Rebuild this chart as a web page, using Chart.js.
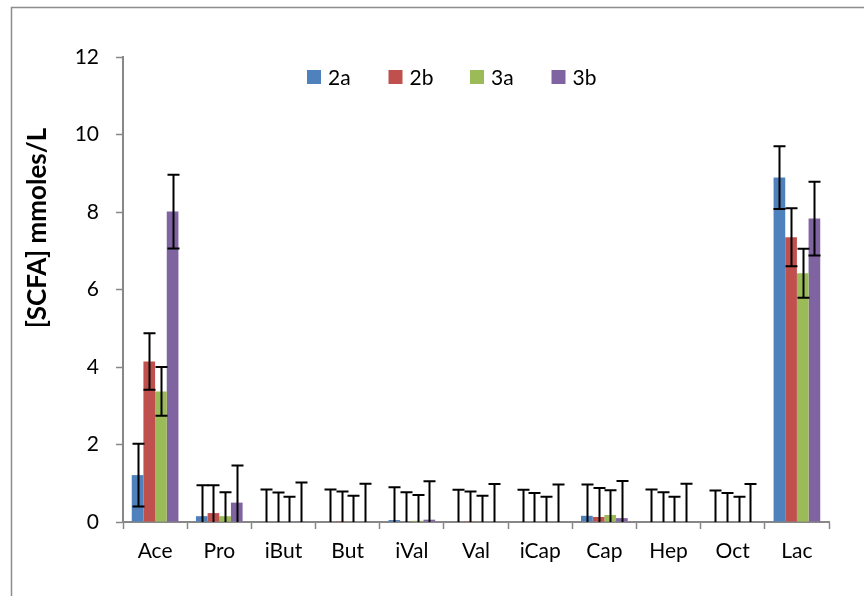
<!DOCTYPE html>
<html>
<head>
<meta charset="utf-8">
<script src="https://cdn.jsdelivr.net/npm/chart.js@4/dist/chart.umd.min.js"></script>
<style>
  html, body { margin: 0; padding: 0; background: #fff; }
  #wrap { width: 864px; height: 596px; }
</style>
</head>
<body>
<div id="wrap"><canvas id="scfa-chart" width="864" height="596"></canvas></div>
<script>
var categories = ['Ace', 'Pro', 'iBut', 'But', 'iVal', 'Val', 'iCap', 'Cap', 'Hep', 'Oct', 'Lac'];
var seriesNames = ['2a', '2b', '3a', '3b'];

var values2a = [1.21, 0.15, 0, 0, 0.05, 0, 0, 0.16, 0, 0, 8.89];
var values2b = [4.14, 0.23, 0, 0.02, 0.01, 0.02, 0, 0.13, 0, 0, 7.35];
var values3a = [3.37, 0.15, 0, 0, 0.03, 0, 0, 0.18, 0, 0, 6.42];
var values3b = [8.01, 0.50, 0.02, 0, 0.06, 0, 0, 0.10, 0, 0, 7.83];

var errors2a = [0.81, 0.80, 0.84, 0.84, 0.85, 0.83, 0.83, 0.81, 0.84, 0.81, 0.81];
var errors2b = [0.73, 0.72, 0.76, 0.77, 0.76, 0.77, 0.75, 0.75, 0.77, 0.75, 0.75];
var errors3a = [0.63, 0.62, 0.65, 0.68, 0.67, 0.68, 0.65, 0.64, 0.65, 0.65, 0.63];
var errors3b = [0.95, 0.96, 1.00, 0.99, 0.99, 0.98, 0.97, 0.96, 0.99, 0.98, 0.95];

var yTicks = [0, 2, 4, 6, 8, 10, 12];
var yTitle = '[SCFA] mmoles/L';

var colors = ['#4F81BD', '#C0504D', '#9BBB59', '#8064A2'];
var axisGray = '#878787';
var fontFamily = 'Lato, "Open Sans", sans-serif';

function makeDataset(i, values, errors) {
    return {
        label: seriesNames[i],
        data: values,
        errors: errors,
        backgroundColor: colors[i],
        borderWidth: 0,
        categoryPercentage: 4 / 5.5,
        barPercentage: 1.0
    };
}

// outer frame like the Excel chart area border
var framePlugin = {
    id: 'frame',
    beforeDraw: function(chart) {
        var ctx = chart.ctx;
        ctx.save();
        ctx.strokeStyle = '#8c8c8c';
        ctx.lineWidth = 1.5;
        ctx.strokeRect(11.5, 7.5, 1000, 1000);
        ctx.restore();
    }
};

var errorBarPlugin = {
    id: 'errorBars',
    afterDatasetsDraw: function(chart) {
        var ctx = chart.ctx;
        var area = chart.chartArea;
        var yScale = chart.scales.y;
        ctx.save();
        ctx.beginPath();
        ctx.rect(area.left, area.top - 2, area.right - area.left, area.bottom - area.top + 2);
        ctx.clip();
        ctx.strokeStyle = '#000';
        ctx.lineWidth = 2;
        chart.data.datasets.forEach(function(ds, di) {
            var meta = chart.getDatasetMeta(di);
            meta.data.forEach(function(bar, j) {
                var v = ds.data[j];
                var e = ds.errors[j];
                var x = Math.round(bar.x) + 0.5;
                var yHi = yScale.getPixelForValue(v + e);
                var yLo = yScale.getPixelForValue(v - e);
                var cap = 6;
                ctx.beginPath();
                ctx.moveTo(x, yHi);
                ctx.lineTo(x, yLo);
                ctx.moveTo(x - cap, yHi);
                ctx.lineTo(x + cap, yHi);
                ctx.moveTo(x - cap, yLo);
                ctx.lineTo(x + cap, yLo);
                ctx.stroke();
            });
        });
        ctx.restore();
    }
};

// legend sits inside the plot area near the top, Excel style
var insideLegendPlugin = {
    id: 'insideLegend',
    afterDraw: function(chart) {
        var ctx = chart.ctx;
        var area = chart.chartArea;
        ctx.save();
        ctx.font = '21px ' + fontFamily;
        ctx.textBaseline = 'middle';
        var x = area.left + 184;
        var y = area.top + 20;
        chart.data.datasets.forEach(function(ds) {
            ctx.fillStyle = ds.backgroundColor;
            ctx.fillRect(x, y - 7, 14, 14);
            ctx.fillStyle = '#000';
            ctx.fillText(ds.label, x + 21, y + 1);
            x += 81.5;
        });
        ctx.restore();
    }
};

var yTitlePlugin = {
    id: 'yTitle',
    afterDraw: function(chart) {
        var ctx = chart.ctx;
        ctx.save();
        ctx.translate(38, 228);
        ctx.rotate(-Math.PI / 2);
        ctx.font = 'bold 26px ' + fontFamily;
        ctx.fillStyle = '#000';
        ctx.textAlign = 'center';
        ctx.textBaseline = 'middle';
        ctx.fillText(yTitle, 0, 0);
        ctx.restore();
    }
};

var ctxBar = document.getElementById('scfa-chart').getContext('2d');
var scfaChart = new Chart(ctxBar, {
    type: 'bar',
    data: {
        labels: categories,
        datasets: [
            makeDataset(0, values2a, errors2a),
            makeDataset(1, values2b, errors2b),
            makeDataset(2, values3a, errors3a),
            makeDataset(3, values3b, errors3b)
        ]
    },
    options: {
        responsive: false,
        animation: false,
        layout: {
            padding: { top: 57, right: 35, left: 0, bottom: 0 }
        },
        plugins: {
            legend: { display: false },
            tooltip: { enabled: false }
        },
        scales: {
            x: {
                grid: {
                    display: true,
                    offset: true,
                    drawOnChartArea: false,
                    tickLength: 7,
                    tickColor: axisGray,
                    tickWidth: 1.5
                },
                border: { color: axisGray, width: 2 },
                ticks: {
                    color: '#000',
                    padding: 10,
                    font: { family: fontFamily, size: 21 }
                },
                afterFit: function(scale) { scale.height = 74; }
            },
            y: {
                min: 0,
                max: 12,
                afterBuildTicks: function(scale) {
                    scale.ticks = yTicks.map(function(v) { return { value: v }; });
                },
                grid: {
                    display: true,
                    drawOnChartArea: false,
                    tickLength: 7,
                    tickColor: axisGray,
                    tickWidth: 1.5
                },
                border: { color: axisGray, width: 2 },
                ticks: {
                    color: '#000',
                    padding: 17,
                    font: { family: fontFamily, size: 21 }
                },
                afterFit: function(scale) { scale.width = 123; }
            }
        }
    },
    plugins: [framePlugin, errorBarPlugin, insideLegendPlugin, yTitlePlugin]
});
</script>
</body>
</html>
